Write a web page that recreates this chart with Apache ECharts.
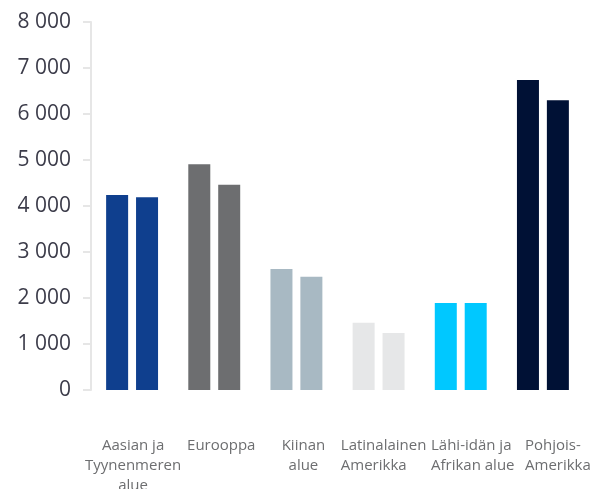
<!DOCTYPE html>
<html>
<head>
<meta charset="utf-8">
<script src="https://cdn.jsdelivr.net/npm/echarts@6/dist/echarts.min.js"></script>
<style>html,body{margin:0;padding:0;background:#fff}#c{width:592px;height:489px}</style>
</head>
<body>
<div id="c"></div>
<script>
const categories = ["Aasian ja\nTyynenmeren\nalue", "Eurooppa", "Kiinan\nalue", "Latinalainen\nAmerikka", "Lähi-idän ja\nAfrikan alue", "Pohjois-\nAmerikka"];
const seriesA = [4240, 4910, 2630, 1460, 1890, 6740];
const seriesB = [4190, 4460, 2460, 1240, 1890, 6300];
const colors = ["#0f3f8e", "#6d6e70", "#a8b9c3", "#e6e7e8", "#00c8ff", "#001135"];
const yTicks = { min: 0, max: 8000, interval: 1000 };

const labelAlign = ['center', 'center', 'center', 'left', 'left', 'left'];
const labelPad = [2, 14, 14, 10, 24, 30];

const rich = {};
categories.forEach((c, i) => {
  rich['s' + i] = {
    fontFamily: 'Open Sans', fontSize: 15, color: '#6d6e70', lineHeight: 20,
    align: labelAlign[i],
    padding: [0, 0, 0, labelPad[i]]
  };
});

const chart = echarts.init(document.getElementById('c'));
chart.setOption({
  animation: false,
  grid: { left: 91, right: 8, top: 22, bottom: 99, containLabel: false, outerBoundsMode: 'none' },
  xAxis: {
    type: 'category',
    data: categories,
    axisLine: { show: false },
    axisTick: { show: false },
    axisLabel: {
      interval: 0,
      margin: 46,
      formatter: (v, i) => v.split('\n').map(l => '{s' + i + '|' + l + '}').join('\n'),
      rich: rich
    }
  },
  yAxis: {
    type: 'value',
    min: yTicks.min, max: yTicks.max, interval: yTicks.interval,
    splitLine: { show: false },
    axisLine: { show: true, lineStyle: { color: '#e6e6e6', width: 2 } },
    axisTick: { show: true, length: 8, lineStyle: { color: '#e6e6e6', width: 2 } },
    axisLabel: {
      margin: 20,
      fontFamily: 'Open Sans', fontSize: 21, color: '#3c3c4a',
      formatter: v => String(v).replace(/\B(?=(\d{3})+(?!\d))/g, ' ')
    }
  },
  series: [
    { type: 'bar', barWidth: 22, barGap: '36%', data: seriesA.map((v, i) => ({ value: v, itemStyle: { color: colors[i] } })) },
    { type: 'bar', barWidth: 22, barGap: '36%', data: seriesB.map((v, i) => ({ value: v, itemStyle: { color: colors[i] } })) }
  ]
});
</script>
</body>
</html>
